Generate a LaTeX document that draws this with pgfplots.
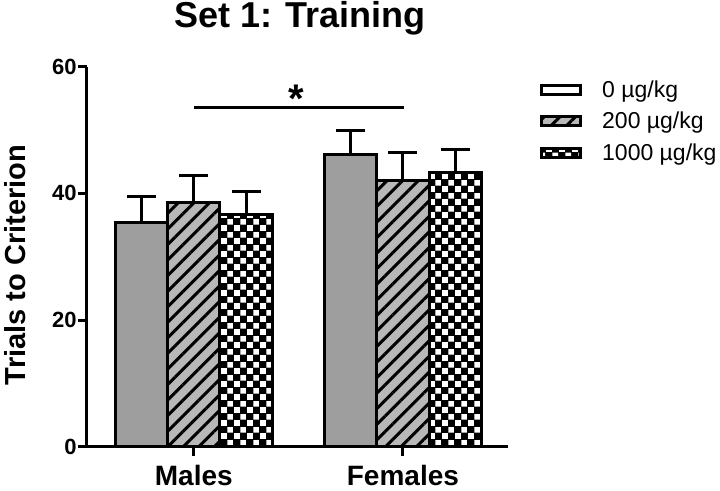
\documentclass[border=0pt]{standalone}
\usepackage{fontspec}
\setmainfont{Liberation Sans}
\usepackage{pgfplots}
\pgfplotsset{compat=1.18}
\usetikzlibrary{patterns,patterns.meta}

% black/white checks for the 1000 ug/kg group
\pgfdeclarepatternformonly{checks}{\pgfpointorigin}{\pgfpoint{13pt}{13pt}}{\pgfpoint{13pt}{13pt}}{%
  \pgfpathrectangle{\pgfpoint{0.25pt}{0.25pt}}{\pgfpoint{6pt}{6pt}}%
  \pgfpathrectangle{\pgfpoint{6.75pt}{6.75pt}}{\pgfpoint{6pt}{6pt}}%
  \pgfusepath{fill}}

\pgfplotsset{
  mypatch/.style={legend image code/.code={\draw[##1] (1.5pt,-4.5pt) rectangle (40.5pt,4.5pt);}},
  solidbar/.style={fill=black!38},
  hatchbar/.style={fill=black!28, postaction={pattern={Lines[angle=45,distance=11pt,line width=3pt]}, pattern color=black}},
  checkbar/.style={fill=black, postaction={pattern=checks, pattern color=white}},
  errs/.style={error bars/.cd, y dir=plus, y explicit,
    error bar style={line width=3pt, black},
    error mark options={line width=3pt, black, mark size=14.5pt, rotate=90}},
}

\begin{document}
\begin{tikzpicture}
\useasboundingbox (0,0) rectangle (720pt,490pt);
\begin{axis}[
  at={(86.7pt,43.3pt)}, anchor=south west,
  scale only axis, width=421.6pt, height=380pt,
  ybar, bar width=0.25,
  xmin=-0.512, xmax=1.504, ymin=0, ymax=60,
  xtick={0,1}, xticklabels={Males,Females},
  ytick={0,20,40,60},
  axis x line*=bottom, axis y line*=left,
  tick align=outside, major tick length=9pt,
  axis line style={line width=3pt},
  tick style={line width=3pt, black},
  /pgf/number format/assume math mode=true,
  yticklabel style={font=\fontsize{22}{22}\selectfont\bfseries, inner sep=1pt},
  xticklabel style={font=\fontsize{28}{28}\selectfont\bfseries, yshift=-6pt},
  clip=false,
  legend style={at={(axis description cs:1.0752,0.964)}, anchor=north west,
    draw=none, fill=none, inner sep=0pt, row sep=13.5pt, column sep=20pt,
    nodes={inner sep=0pt}, font=\fontsize{23}{23}\selectfont},
  legend cell align=left,
]
\addplot[forget plot, draw=black, line width=3pt, solidbar, bar shift=-0.25, errs]
  coordinates {(0,35.4) +- (0,4.1) (1,46.1) +- (0,3.9)};
\addplot[forget plot, draw=black, line width=3pt, hatchbar, bar shift=0, errs]
  coordinates {(0,38.5) +- (0,4.3) (1,42.1) +- (0,4.3)};
\addplot[forget plot, draw=black, line width=3pt, checkbar, bar shift=0.25, errs]
  coordinates {(0,36.6) +- (0,3.7) (1,43.3) +- (0,3.7)};

\addlegendimage{mypatch, draw=black, line width=3pt, fill=white}
\addlegendentry{0 µg/kg}
\addlegendimage{mypatch, draw=black, line width=3pt, hatchbar}
\addlegendentry{200 µg/kg}
\addlegendimage{mypatch, draw=black, line width=3pt, checkbar}
\addlegendentry{1000 µg/kg}

% significance bar
\draw[line width=3pt] (axis cs:0,53.5) -- (axis cs:1.006,53.5);
\node[anchor=base, inner sep=0pt, font=\fontsize{40}{40}\selectfont\bfseries] at (axis cs:0.49,52.8) {*};
\end{axis}
\node[anchor=base, font=\fontsize{36}{36}\selectfont\bfseries] at (299.8pt,462pt) {Set 1: Training};
\node[rotate=90, font=\fontsize{29}{29}\selectfont\bfseries] at (15pt,225pt) {Trials to Criterion};
\end{tikzpicture}
\end{document}
